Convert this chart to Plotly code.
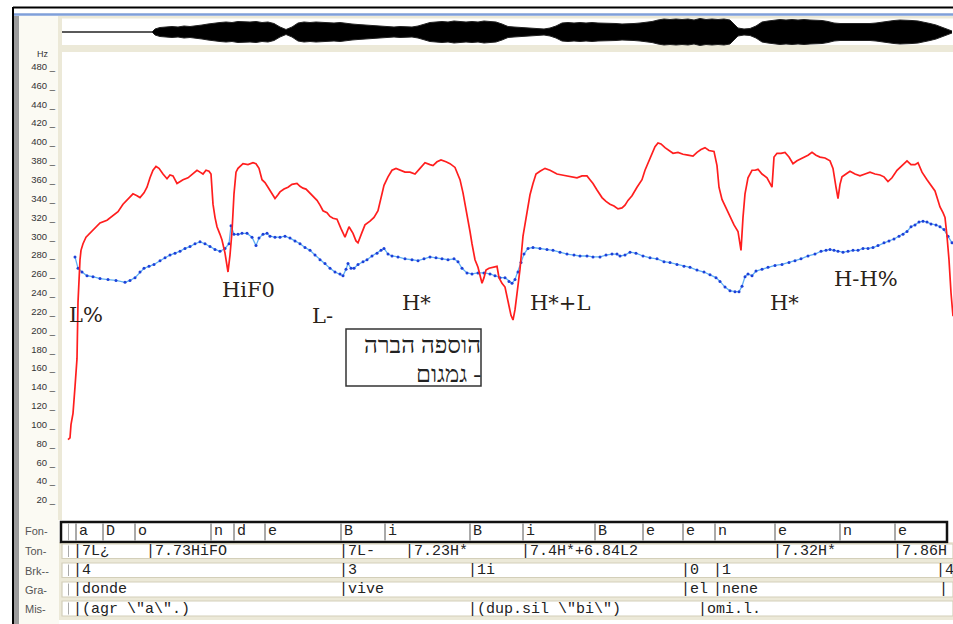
import plotly.graph_objects as go

W, H = 953, 624

# ---------------- data ----------------
# time unit: 1 = one screen frame of the original display (0 .. 891)
red_t = [6, 8, 9, 10, 11, 13, 15, 16, 17, 18, 19, 21, 24, 28, 33, 38, 45, 51, 56, 61, 66, 71, 75, 78,
         82, 85, 88, 91, 94, 97, 101, 105, 108, 111, 115, 118, 121, 126, 131, 135, 138, 141, 144, 147,
         149, 151, 153, 155, 158, 160, 163, 165, 166, 168, 170, 172, 174, 176, 181, 186, 191, 194, 197,
         200, 203, 206, 210, 213, 216, 218, 222, 226, 230, 235, 238, 241, 244, 248, 251, 255, 258, 261,
         265, 268, 271, 275, 279, 283, 287, 289, 291, 294, 296, 300, 303, 308, 312, 316, 319, 322, 326,
         330, 334, 338, 343, 348, 353, 358, 363, 368, 371, 375, 379, 384, 388, 393, 398, 401, 405, 408,
         410, 413, 416, 418, 420, 422, 424, 427, 431, 435, 437, 440, 443, 445, 447, 449, 451, 453, 455,
         458, 461, 465, 468, 471, 474, 478, 483, 488, 495, 500, 505, 510, 515, 520, 525, 528, 531, 535,
         540, 544, 548, 552, 556, 560, 563, 566, 570, 575, 580, 583, 586, 590, 593, 596, 599, 603, 607,
         611, 616, 621, 626, 631, 635, 639, 643, 647, 652, 655, 657, 660, 664, 668, 672, 676, 679, 681,
         683, 686, 690, 693, 696, 700, 705, 708, 710, 712, 715, 719, 723, 727, 731, 735, 741, 746, 750,
         754, 758, 763, 768, 771, 774, 776, 778, 780, 784, 788, 793, 798, 803, 808, 813, 818, 822, 826,
         830, 835, 840, 845, 849, 853, 856, 860, 865, 869, 873, 876, 878, 881, 883, 885, 887, 889, 891]
red_hz = [84, 86, 100, 108, 112, 140, 170, 230, 260, 275, 285, 292, 299, 303, 308, 314, 317, 322, 326,
          334, 340, 345, 343, 341, 346, 352, 362, 370, 374, 372, 366, 361, 365, 364, 356, 358, 360, 362,
          366, 370, 368, 366, 370, 369, 366, 334, 320, 310, 302, 296, 282, 270, 262, 280, 305, 345, 368,
          372, 377, 376, 378, 377, 372, 360, 357, 352, 345, 340, 344, 347, 350, 352, 355, 356, 353, 351,
          350, 346, 342, 338, 333, 327, 325, 321, 319, 318, 308, 299, 310, 307, 303, 295, 293, 304, 312,
          316, 320, 327, 340, 354, 363, 370, 372, 370, 368, 368, 366, 372, 378, 376, 375, 379, 381, 379,
          377, 373, 360, 346, 324, 305, 292, 275, 267, 257, 250, 256, 264, 266, 267, 268, 256, 250, 246,
          235, 225, 216, 211, 222, 239, 265, 300, 326, 344, 356, 366, 369, 372, 370, 366, 365, 364, 363,
          362, 364, 364, 360, 356, 349, 341, 337, 334, 332, 329, 330, 333, 338, 343, 352, 360, 370, 378,
          388, 395, 399, 398, 394, 391, 388, 389, 387, 386, 385, 389, 392, 394, 391, 390, 375, 352, 339,
          330, 320, 312, 305, 285, 320, 345, 362, 370, 370, 371, 366, 362, 356, 352, 384, 388, 388, 389,
          384, 377, 380, 383, 386, 389, 386, 384, 383, 380, 372, 352, 340, 355, 363, 366, 369, 366, 364,
          366, 368, 366, 365, 363, 358, 362, 370, 375, 380, 376, 376, 378, 368, 360, 354, 348, 338, 331,
          325, 320, 300, 275, 240, 215]

blue_t = [13, 16, 20, 25, 31, 38, 46, 54, 63, 68, 73, 78, 82, 87, 92, 98, 103, 108, 113, 118, 123,
          128, 133, 138, 143, 148, 153, 158, 163, 167, 169, 172, 176, 180, 185, 190, 194, 197, 201,
          205, 208, 213, 218, 223, 228, 233, 238, 243, 248, 253, 258, 263, 268, 273, 278, 281, 284,
          286, 289, 292, 296, 301, 305, 310, 315, 319, 322, 326, 330, 336, 343, 350, 356, 362, 368,
          374, 380, 386, 392, 396, 400, 405, 410, 416, 422, 428, 433, 438, 443, 447, 450, 453, 456,
          459, 462, 466, 471, 478, 485, 491, 498, 505, 512, 518, 525, 531, 538, 544, 550, 555, 558,
          563, 568, 574, 581, 588, 595, 602, 608, 615, 622, 628, 635, 642, 648, 654, 658, 663, 668,
          673, 677, 680, 683, 686, 690, 694, 700, 706, 713, 720, 727, 733, 739, 746, 753, 759, 764,
          768, 772, 776, 781, 786, 791, 796, 801, 806, 811, 816, 822, 827, 832, 837, 841, 845, 849,
          853, 857, 861, 865, 869, 874, 878, 882, 886, 890]
blue_hz = [278, 266, 262, 258, 257, 255, 254, 253, 251, 253, 256, 262, 266, 268, 270, 274, 277, 280,
           282, 284, 287, 289, 292, 294, 292, 289, 286, 284, 287, 292, 311, 302, 302, 303, 303, 299,
           290, 298, 302, 303, 300, 299, 299, 300, 298, 295, 292, 288, 285, 280, 275, 271, 266, 262,
           260, 258, 265, 271, 266, 266, 270, 273, 275, 279, 282, 285, 287, 281, 279, 278, 276, 275,
           274, 276, 278, 277, 276, 275, 276, 273, 266, 261, 260, 261, 261, 260, 258, 256, 256, 252,
           250, 254, 262, 272, 281, 287, 288, 287, 286, 285, 283, 281, 280, 279, 279, 278, 278, 280,
           281, 281, 279, 280, 283, 282, 279, 277, 276, 273, 272, 270, 268, 267, 264, 262, 259, 256,
           252, 246, 242, 241, 241, 247, 257, 260, 258, 263, 265, 267, 269, 270, 272, 274, 276, 279,
           281, 284, 285, 286, 285, 284, 283, 284, 285, 285, 287, 287, 288, 290, 293, 295, 297, 300,
           302, 305, 310, 312, 315, 316, 315, 313, 312, 310, 307, 300, 293]

# waveform envelope (half amplitude)
wave_t = [0, 90,
          93, 98, 104, 110, 116, 122, 128, 134, 140, 146,
          152, 158, 164, 170, 176, 182, 188, 194, 200, 206,
          212, 218, 224, 230, 236, 242, 248, 254, 260, 266,
          272, 278, 284, 290, 296, 302, 308, 314, 320, 326,
          332, 338, 344, 350, 356, 362, 368, 374, 380, 386,
          392, 398, 404, 410, 416, 422, 428, 434, 440, 446,
          452, 458, 464, 470, 476, 482, 488, 494, 500, 506,
          512, 518, 524, 530, 536, 542, 548, 554, 560, 566,
          572, 578, 584, 590, 596, 602, 608, 614, 620, 626,
          632, 638, 644, 650, 656, 662, 668, 672, 676, 682,
          688, 694, 700, 706, 712, 718, 724, 730, 736, 742,
          748, 754, 760, 766, 772, 778, 784, 790, 796, 802,
          808, 814, 820, 826, 832, 838, 844, 850, 856, 862,
          868, 874, 880, 886, 890]
wave_amp = [0, 0,
            3, 4.5, 5, 5.5, 5, 6, 5.5, 6, 7, 8,
            9, 9.5, 10, 9.5, 10.5, 10, 10, 10.5, 9.5, 10,
            8.5, 5, 2.5, 5, 9, 10, 9.5, 10, 9.5, 9.5,
            9, 9.5, 8.5, 8, 7.5, 7, 6.5, 6, 6, 5.5,
            5, 5.5, 5, 5, 6, 7.5, 9.5, 10, 10.5, 10,
            11, 10.5, 10, 10.5, 10, 11, 10.5, 10, 8, 5.5,
            5, 4.5, 4.5, 4, 3.5, 3, 4, 6, 9, 9.5,
            9, 9.5, 9, 9.5, 9, 9, 8.5, 8.5, 8, 8,
            8.5, 9, 9.5, 10.5, 12, 13, 12.5, 13, 12.5, 13,
            12, 13.5, 12.5, 13, 12.5, 13, 12, 8, 4, 3,
            3.5, 6, 10, 11, 12, 12.5, 12, 12.5, 12, 12.5,
            12, 12, 11.5, 10.5, 9, 8.5, 8.5, 8, 8.5, 8,
            8.5, 9, 10, 11, 11.5, 12, 12, 11.5, 11, 10,
            8.5, 7, 5, 2.5, 1]

hz_ticks = list(range(20, 500, 20))

tone_labels = ["L%", "HiF0", "L-", "H*", "H*+L", "H*", "H-H%"]
tone_label_t = [5, 158, 248, 338, 466, 706, 770]
tone_label_hz = [216, 243, 215, 229, 229, 229, 255]

note_lines = ["הוספה הברה", "גמגום -"]

tier_names = ["Fon-", "Ton-", "Brk--", "Gra-", "Mis-"]
fon_t = [14, 41, 73, 149, 172, 203, 279, 323, 408, 461, 533, 581, 621, 653, 713, 778, 833]
fon_labels = ["a", "D", "o", "n", "d", "e", "B", "i", "B", "i", "B", "e", "e", "n", "e", "n", "e"]
ton_t = [13, 86, 279, 345, 461, 713, 833]
ton_labels = ["7L¿", "7.73HiFO", "7L-", "7.23H*", "7.4H*+6.84L2", "7.32H*", "7.86H"]
brk_t = [13, 279, 408, 621, 653, 876]
brk_labels = ["4", "3", "1i", "0", "1", "4"]
gra_t = [13, 279, 621, 653, 879]
gra_labels = ["donde", "vive", "el", "nene", ""]
mis_t = [13, 408, 638]
mis_labels = ['(agr \\"a\\".)', '(dup.sil \\"bi\\")', "omi.l."]

assert len(red_t) == len(red_hz)
assert len(blue_t) == len(blue_hz)
assert len(wave_t) == len(wave_amp)

# ---------------- layout helpers ----------------
def px(x):
    return x / W


def py(y):
    return 1 - y / H


X0 = 62          # left edge of the data area (pixels)
Y_TOP = 52       # top of the pitch panel
Y_ZERO = 518.8   # 0 Hz line
HZ_PER_PX = 0.942
hz_top = (Y_ZERO - Y_TOP) / HZ_PER_PX
t_max = W - X0

fig = go.Figure()

# waveform
fig.add_trace(go.Scatter(x=wave_t, y=wave_amp, mode="lines", yaxis="y2",
                         line=dict(color="#222", width=1), hoverinfo="skip", showlegend=False))
fig.add_trace(go.Scatter(x=wave_t, y=[-a for a in wave_amp], mode="lines", yaxis="y2",
                         fill="tonexty", fillcolor="#000",
                         line=dict(color="#222", width=1), hoverinfo="skip", showlegend=False))

# blue contour
fig.add_trace(go.Scatter(x=blue_t, y=blue_hz, mode="lines+markers",
                         line=dict(color="#5fb0f5", width=1.3),
                         marker=dict(color="#1e40d8", size=3), showlegend=False))
# red F0
fig.add_trace(go.Scatter(x=red_t, y=red_hz, mode="lines",
                         line=dict(color="#ff1e1e", width=1.7), showlegend=False))

shapes = []
LB = "#ece9d8"
# window chrome
shapes.append(dict(type="rect", xref="paper", yref="paper", x0=px(19), x1=px(59), y0=py(624), y1=py(16),
                   fillcolor="#fbfaf3", line=dict(width=0), layer="below"))
shapes.append(dict(type="rect", xref="paper", yref="paper", x0=px(14), x1=px(19), y0=py(624), y1=py(16),
                   fillcolor="#9c9c9c", line=dict(width=0), layer="below"))
shapes.append(dict(type="rect", xref="paper", yref="paper", x0=px(58), x1=px(62), y0=py(520), y1=py(16),
                   fillcolor=LB, line=dict(width=0), layer="below"))
shapes.append(dict(type="rect", xref="paper", yref="paper", x0=px(58), x1=px(953), y0=py(52), y1=py(45),
                   fillcolor=LB, line=dict(width=0), layer="below"))
shapes.append(dict(type="rect", xref="paper", yref="paper", x0=px(58), x1=px(953), y0=py(18.5), y1=py(16),
                   fillcolor=LB, line=dict(width=0), layer="below"))
shapes.append(dict(type="line", xref="paper", yref="paper", x0=px(13), x1=px(953), y0=py(14.5), y1=py(14.5),
                   line=dict(color="#7f9fd9", width=2.5)))
shapes.append(dict(type="line", xref="paper", yref="paper", x0=px(13), x1=px(953), y0=py(7.5), y1=py(7.5),
                   line=dict(color="#000", width=2)))
shapes.append(dict(type="line", xref="paper", yref="paper", x0=px(13), x1=px(13), y0=py(624), y1=py(7),
                   line=dict(color="#000", width=2)))

# tier panel
shapes.append(dict(type="rect", xref="paper", yref="paper", x0=px(59), x1=px(953), y0=py(620), y1=py(542),
                   fillcolor=LB, line=dict(width=0), layer="below"))
row_y = [(522, 542), (544, 558.5), (563, 577.5), (582, 597), (601, 616)]
for i, (a, b) in enumerate(row_y):
    if i == 0:
        shapes.append(dict(type="rect", xref="paper", yref="paper", x0=px(61), x1=px(947),
                           y0=py(b), y1=py(a), fillcolor="#fff", line=dict(color="#111", width=2.5)))
    else:
        shapes.append(dict(type="rect", xref="paper", yref="paper", x0=px(62), x1=px(953),
                           y0=py(b), y1=py(a), fillcolor="#fff", line=dict(color="#d3cfb9", width=1.2)))
    shapes.append(dict(type="line", xref="paper", yref="paper", x0=px(68.5), x1=px(68.5),
                       y0=py(b - 1.5), y1=py(a + 1.5), line=dict(color="#aaa", width=1)))
for t in fon_t:
    shapes.append(dict(type="line", xref="x", yref="paper", x0=t, x1=t, y0=py(540.5), y1=py(523.5),
                       line=dict(color="#555", width=1)))

# hebrew note box
shapes.append(dict(type="rect", xref="paper", yref="paper", x0=px(346), x1=px(481), y0=py(386), y1=py(329),
                   fillcolor="rgba(255,255,255,0)", line=dict(color="#333", width=1.5)))

annotations = []
annotations.append(dict(text="Hz", xref="paper", yref="paper", x=px(35), y=py(47.5), showarrow=False,
                        font=dict(family="Liberation Sans", size=9, color="#333")))
for lab, t, hz in zip(tone_labels, tone_label_t, tone_label_hz):
    annotations.append(dict(text=lab, x=t, y=hz, xref="x", yref="y", xanchor="left", yanchor="middle",
                            showarrow=False, font=dict(family="DejaVu Serif", size=21, color="#2a2218")))
for k, line in enumerate(note_lines):
    annotations.append(dict(text=line, xref="paper", yref="paper", x=px(482), y=py(345 + 29 * k),
                            xanchor="right", yanchor="middle", showarrow=False, borderpad=0,
                            font=dict(family="Liberation Serif", size=24, color="#222")))

row_centers = [531, 551, 570.5, 589.5, 609]
for name, yc in zip(tier_names, row_centers):
    annotations.append(dict(text=name, xref="paper", yref="paper", x=px(23), y=py(yc), xanchor="left",
                            yanchor="middle", showarrow=False,
                            font=dict(family="Liberation Sans", size=11, color="#555")))

mono = dict(family="Liberation Mono", size=15, color="#222")
for t, lab in zip(fon_t, fon_labels):
    annotations.append(dict(text=lab, x=t, xref="x", y=py(row_centers[0]), yref="paper", xanchor="left",
                            yanchor="middle", xshift=1, showarrow=False, font=mono))
for ts, labs, yc in [(ton_t, ton_labels, row_centers[1]), (brk_t, brk_labels, row_centers[2]),
                     (gra_t, gra_labels, row_centers[3]), (mis_t, mis_labels, row_centers[4])]:
    for t, lab in zip(ts, labs):
        annotations.append(dict(text="|" + lab, x=t, xref="x", y=py(yc), yref="paper", xanchor="left",
                                yanchor="middle", xshift=-4, showarrow=False, font=mono))

fig.update_layout(
    width=W, height=H, autosize=False,
    margin=dict(l=0, r=0, t=0, b=0),
    paper_bgcolor="#ffffff", plot_bgcolor="rgba(0,0,0,0)",
    xaxis=dict(domain=[px(X0), 1], range=[0, t_max], visible=False, fixedrange=True),
    yaxis=dict(domain=[py(Y_ZERO), py(Y_TOP)], range=[0, hz_top], anchor="free", position=px(55),
               tickvals=hz_ticks, ticktext=[f"{v} _" for v in hz_ticks], showgrid=False,
               zeroline=False, showline=False, ticks="",
               tickfont=dict(family="Liberation Sans", size=9.5, color="#333")),
    yaxis2=dict(domain=[py(46), py(18)], range=[-14, 14], visible=False, anchor="x"),
    shapes=shapes, annotations=annotations,
)

fig.write_html("out.html")
